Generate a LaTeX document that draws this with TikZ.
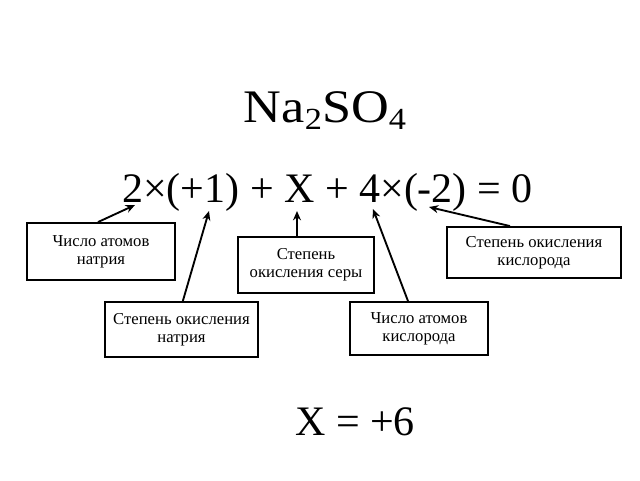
\documentclass[tikz,border=0pt]{standalone}
\usepackage{fontspec}
\setmainfont{Liberation Serif}
\usetikzlibrary{arrows.meta}
\begin{document}
\begin{tikzpicture}[x=0.75pt,y=-0.75pt,
  lbl/.style={draw=black,line width=1.4pt,align=center,font=\fontsize{12.5}{13.5}\selectfont,inner sep=0pt},
  arr/.style={line width=1.4pt,-{Stealth[length=7pt,width=6pt]}},
  big/.style={font=\fontsize{31.5}{36}\selectfont,inner sep=0pt}]
\useasboundingbox (0,0) rectangle (640,480);
\fill[white] (0,0) rectangle (640,480);
% title
\node[anchor=base,inner sep=0pt,font=\fontsize{35}{40}\selectfont] (title) at (325,122)
  {\scalebox{1.12}[1]{Na\raisebox{-5.5pt}{\fontsize{23}{24}\selectfont 2}SO\raisebox{-5.5pt}{\fontsize{23}{24}\selectfont 4}}};
% equation
\node[big,anchor=base west] (eq) at (122,202) {2×(+1) + X + 4×(-2) = 0};
% result
\node[big,anchor=base west] (res) at (295,435) {X = +6};
% boxes
\node[lbl,minimum width=111pt,minimum height=42.75pt] (b1) at (101,251.5) {Число атомов\\натрия};
\node[lbl,minimum width=102pt,minimum height=42pt] (b2) at (306,265) {Степень\\окисления серы};
\node[lbl,minimum width=130.5pt,minimum height=38.25pt] (b3) at (534,252.5) {Степень окисления\\кислорода};
\node[lbl,minimum width=114.75pt,minimum height=41.25pt] (b4) at (181.5,329.5) {Степень окисления\\натрия};
\node[lbl,minimum width=103.5pt,minimum height=39.75pt] (b5) at (419,328.5) {Число атомов\\кислорода};
% arrow heads
\coordinate (h1) at (135,205);
\coordinate (h4) at (209,211);
\coordinate (h2) at (297,211);
\coordinate (h5) at (373,209);
\coordinate (h3) at (429,207);
\draw[arr] ([xshift=-2.25pt]b1.north) -- (h1);
\draw[arr] ([xshift=1pt]b4.north) -- (h4);
\draw[arr] ([xshift=-6.75pt]b2.north) -- (h2);
\draw[arr] ([xshift=-8.25pt]b5.north) -- (h5);
\draw[arr] ([xshift=-18pt]b3.north) -- (h3);
\end{tikzpicture}
\end{document}
